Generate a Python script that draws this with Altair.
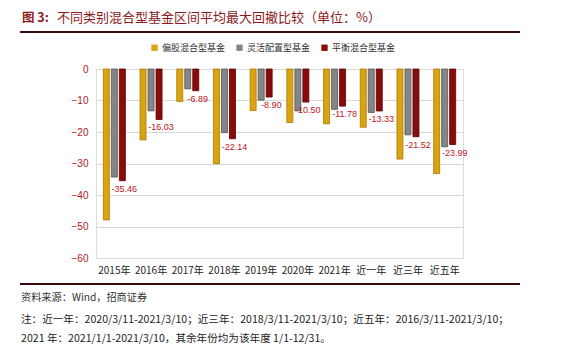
import altair as alt
import pandas as pd

categories = ["2015年", "2016年", "2017年", "2018年", "2019年", "2020年", "2021年", "近一年", "近三年", "近五年"]
series_names = ["偏股混合型基金", "灵活配置型基金", "平衡混合型基金"]
equity = [-47.9, -22.5, -10.3, -30.1, -13.2, -17.0, -17.4, -18.5, -28.6, -33.2]
flexible = [-34.3, -13.3, -6.3, -20.2, -9.9, -13.3, -12.8, -13.8, -20.9, -24.7]
balanced = [-35.46, -16.03, -6.89, -22.14, -8.90, -10.50, -11.78, -13.33, -21.52, -23.99]
y_ticks = [-60, -50, -40, -30, -20, -10, 0]
fills = ["#DCA310", "#858585", "#8B0A0A"]
strokes = ["#A87A00", "#555555", "#5A0000"]

title_a = "图 3:"
title_b = "不同类别混合型基金区间平均最大回撤比较（单位：%）"
source = "资料来源：Wind，招商证券"
note1 = "注：近一年：2020/3/11-2021/3/10；近三年：2018/3/11-2021/3/10；近五年：2016/3/11-2021/3/10；"
note2 = "2021 年：2021/1/1-2021/3/10，其余年份均为该年度 1/1-12/31。"

rows = []
for name, vals in zip(series_names, [equity, flexible, balanced]):
    for c, v in zip(categories, vals):
        rows.append({"cat": c, "series": name, "value": v})
df = pd.DataFrame(rows)
df["label"] = df["value"].map(lambda v: f"{v:.2f}")

FONT = "Noto Sans CJK SC"

x_enc = alt.X("cat:N", sort=categories, title=None,
              scale=alt.Scale(paddingInner=0.4, paddingOuter=0.2),
              axis=alt.Axis(labelAngle=0, ticks=False, domain=False, grid=False,
                            labelFont=FONT, labelFontSize=10, labelColor="#222222",
                            labelPadding=7))
xo_enc = alt.XOffset("series:N", sort=series_names,
                     scale=alt.Scale(paddingInner=0.25, paddingOuter=0))

bars = alt.Chart(df).mark_bar(strokeWidth=0.8).encode(
    x=x_enc,
    xOffset=xo_enc,
    y=alt.Y("value:Q", title=None,
            scale=alt.Scale(domain=[-60, 0], nice=False, zero=False),
            axis=alt.Axis(values=y_ticks, tickCount=7, labelOverlap=False, ticks=False,
                          domain=False, gridColor="#d9d9d9", gridWidth=1,
                          labelColor="#B0181E", labelFontSize=10, labelFont="Liberation Sans",
                          labelPadding=8)),
    color=alt.Color("series:N", sort=series_names,
                    scale=alt.Scale(domain=series_names, range=fills),
                    legend=alt.Legend(title=None, orient="none", direction="horizontal",
                                      legendX=54, legendY=-26, symbolType="square",
                                      symbolSize=40, labelFont=FONT, labelFontSize=9,
                                      labelColor="#333333", columnPadding=9,
                                      labelOffset=3, symbolStrokeWidth=0)),
    stroke=alt.Stroke("series:N", sort=series_names,
                      scale=alt.Scale(domain=series_names, range=strokes), legend=None),
)

labels = alt.Chart(df[df["series"] == series_names[2]]).mark_text(
    baseline="top", align="center", dy=4, dx=2, fontSize=9, color="#C0141E",
    font="Liberation Sans"
).encode(
    x=alt.X("cat:N", sort=categories),
    xOffset=alt.XOffset("series:N", sort=series_names),
    y="value:Q",
    text="label:N",
)

tdf = pd.DataFrame({"a": [title_a], "b": [title_b], "s": [source], "n1": [note1], "n2": [note2]})
base = alt.Chart(tdf)
t1 = base.mark_text(align="left", baseline="middle", fontSize=12.5, fontWeight="bold",
                    color="#8B1A1A", font=FONT).encode(
    text="a:N", x=alt.value(-74), y=alt.value(-51))
t2 = base.mark_text(align="left", baseline="middle", fontSize=13,
                    color="#8B1A1A", font=FONT).encode(
    text="b:N", x=alt.value(-39), y=alt.value(-51))
rule_top = base.mark_rule(color="#3a0a0a", strokeWidth=2).encode(
    x=alt.value(-76), x2=alt.value(424), y=alt.value(-37))
rule_bot = base.mark_rule(color="#3a0a0a", strokeWidth=2).encode(
    x=alt.value(-76), x2=alt.value(424), y=alt.value(215))
s1 = base.mark_text(align="left", baseline="middle", fontSize=10.2,
                    color="#333333", font=FONT).encode(
    text="s:N", x=alt.value(-75), y=alt.value(229))
n1 = base.mark_text(align="left", baseline="middle", fontSize=10.6,
                    color="#222222", font=FONT).encode(
    text="n1:N", x=alt.value(-75), y=alt.value(251))
n2 = base.mark_text(align="left", baseline="middle", fontSize=10.6,
                    color="#222222", font=FONT).encode(
    text="n2:N", x=alt.value(-75), y=alt.value(270))

chart = alt.layer(bars, labels, t1, t2, rule_top, rule_bot, s1, n1, n2).properties(
    width=367, height=189,
    autosize=alt.AutoSizeParams(type="none"),
    padding={"left": 88, "top": 61, "right": 95, "bottom": 95},
).configure_view(stroke=None).configure(background="white")

chart.save("out.html", embed_options={"renderer": "svg", "actions": False})
